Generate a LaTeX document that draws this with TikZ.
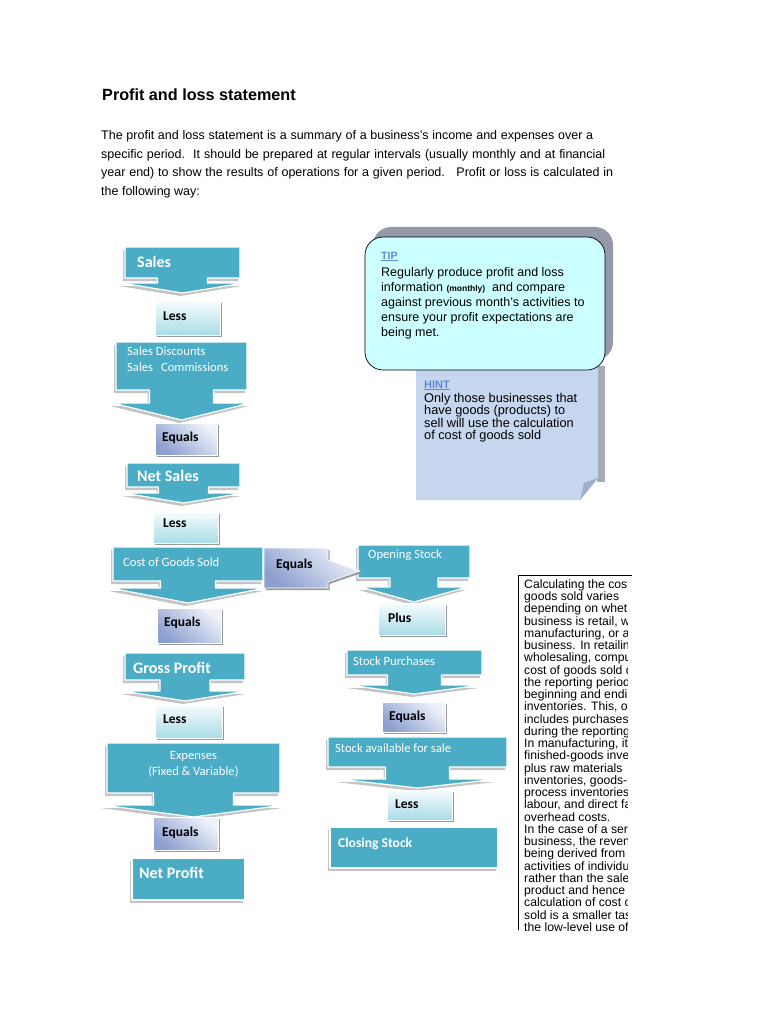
\documentclass[tikz,border=0pt]{standalone}
\usepackage{fontspec}
\setmainfont{Liberation Sans}
\newfontfamily\calfont{Carlito}
\usetikzlibrary{calc,shadows}
\definecolor{tealc}{HTML}{4BACC6}
\definecolor{lesstop}{HTML}{F6FCFD}
\definecolor{lessbot}{HTML}{A9DCE7}
\definecolor{eqlight}{HTML}{EEF2FA}
\definecolor{eqdark}{HTML}{8C9FCF}
\definecolor{tipfill}{HTML}{CCFFFF}
\definecolor{tipshadow}{HTML}{949AAA}
\definecolor{hintshadow}{HTML}{A4AAB8}
\definecolor{hintfill}{HTML}{C6D6EF}
\definecolor{hintfold}{HTML}{9FAFCB}
\definecolor{labelblue}{HTML}{5B8DD6}
\definecolor{shadowgray}{HTML}{C4C4C4}
% #1 node, #2 stem half width, #3 wing half width, #4 stem length, #5 head height
\newcommand\tealarrow[5]{%
  \path[tealshape] (#1.north west) -- (#1.north east) -- (#1.south east)
    -- ($(#1.south)+(#2,0)$) -- ($(#1.south)+(#2,-#4)$) -- ($(#1.south)+(#3,-#4)$)
    -- ($(#1.south)+(0,-#4-#5)$) -- ($(#1.south)+(-#3,-#4)$) -- ($(#1.south)+(-#2,-#4)$)
    -- ($(#1.south)+(-#2,0)$) -- (#1.south west) -- cycle;}
\begin{document}
\begin{tikzpicture}[x=1pt,y=1pt,
  skel/.style={rectangle,inner sep=0pt,outer sep=0pt,draw=none,fill=none},
  sz/.style 2 args={minimum width=#1pt,minimum height=#2pt},
  tealshape/.style={fill=tealc,draw=white,line width=1.2pt,line join=round,
     drop shadow={shadow xshift=-2pt,shadow yshift=-3pt,fill=shadowgray,opacity=1}},
  tealrect/.style={skel,tealshape},
  lessbox/.style={skel,top color=lesstop,bottom color=lessbot,draw=white,line width=0.6pt,
     drop shadow={shadow xshift=1.5pt,shadow yshift=-2pt,fill=black!40,opacity=1}},
  eqshade/.style={top color=eqlight,bottom color=eqdark,shading angle=-40,draw=white,line width=0.6pt,
     drop shadow={shadow xshift=1.5pt,shadow yshift=-2pt,fill=black!40,opacity=1}},
  eqbox/.style={skel,eqshade},
  bigT/.style={anchor=base west,inner sep=0pt,text=white,font=\calfont\bfseries\fontsize{16}{19}\selectfont},
  smallT/.style={anchor=base west,inner sep=0pt,text=white,font=\calfont\fontsize{12.6}{15}\selectfont},
  boxT/.style={anchor=base west,inner sep=0pt,text=black,font=\calfont\bfseries\fontsize{13.5}{16}\selectfont},
  introline/.style={anchor=base west,inner sep=0pt,font=\fontsize{12.5}{15}\selectfont},
]
\useasboundingbox (0,0) rectangle (768,-1024);
\fill[white] (0,0) rectangle (768,-1024);

% ---------- heading and intro ----------
\node[anchor=base west,inner sep=0pt,font=\bfseries\fontsize{16.2}{19}\selectfont] (title) at (102,-101) {Profit and loss statement};
\node[introline] (in1) at (101,-140) {\makebox[492pt][s]{The profit and loss statement is a summary of a business’s income and expenses over a}};
\node[introline] (in2) at (101,-158.5) {\makebox[504pt][s]{specific period.\ \ It should be prepared at regular intervals (usually monthly and at financial}};
\node[introline] (in3) at (101,-177) {\makebox[512pt][s]{year end) to show the results of operations for a given period.\ \ \ Profit or loss is calculated in}};
\node[introline] (in4) at (101,-195.5) {the following way:};

% ---------- HINT note ----------
\fill[hintshadow] (597,-366) rectangle (605,-482);
\path[fill=hintfill,draw=gray!70,dotted] (416,-362) -- (598,-362) -- (598,-478) -- (580,-500) -- (416,-500) -- cycle;
\fill[hintfold] (580,-500) -- (584,-483) -- (598,-478) -- cycle;
\node[anchor=base west,inner sep=0pt,text=labelblue,font=\bfseries\fontsize{11}{13}\selectfont] (hintlbl) at (424,-388) {\underline{HINT}};
\node[anchor=north west,inner sep=0pt,align=left,font=\fontsize{12.75}{12.3}\selectfont] (hinttext) at (424,-393) {Only those businesses that\\have goods (products) to\\sell will use the calculation\\of cost of goods sold};

% ---------- TIP note ----------
\fill[tipshadow,rounded corners=18pt] (373,-227) rectangle (613,-360);
\node[skel,sz={240}{133},anchor=north west,draw=black,line width=0.7pt,fill=tipfill,rounded corners=18pt] (tip) at (365,-237) {};
\node[anchor=base west,inner sep=0pt,text=labelblue,font=\bfseries\fontsize{10.5}{12}\selectfont] (tiplbl) at (381,-259) {\underline{TIP}};
\node[anchor=north west,inner sep=0pt,align=left,font=\fontsize{12.5}{15}\selectfont] (tiptext) at (381,-267) {Regularly produce profit and loss\\information {\bfseries\fontsize{8.5}{15}\selectfont(monthly)}\ \ and compare\\against previous month’s activities to\\ensure your profit expectations are\\being met.};

% ---------- skeleton rectangles of the teal callouts ----------
\node[skel,sz={115}{31}] (sales) at (182.5,-262.5) {};
\node[skel,sz={131}{48}] (disc) at (181.5,-366) {};
\node[skel,sz={113}{24}] (netsales) at (183.5,-475) {};
\node[skel,sz={150}{34}] (cogs) at (188,-564) {};
\node[skel,sz={120}{27}] (gross) at (185,-666.5) {};
\node[skel,sz={173}{50}] (expenses) at (193.5,-768) {};
\node[skel,sz={112}{33}] (opening) at (414,-561.5) {};
\node[skel,sz={135}{25}] (purchases) at (414.5,-662.5) {};
\node[skel,sz={179}{30}] (available) at (417.5,-752) {};

% ---------- teal callout shapes ----------
\tealarrow{sales}{25}{61.5}{5}{10}
\tealarrow{disc}{32}{69}{13}{17}
\tealarrow{netsales}{25}{60}{6}{10}
\tealarrow{cogs}{27.5}{77.5}{7}{15}
\tealarrow{gross}{25}{62.5}{11}{10}
\tealarrow{expenses}{40}{91}{12}{12}
\tealarrow{opening}{24}{53.5}{9}{15}
\tealarrow{purchases}{27}{66}{10}{9}
\tealarrow{available}{32}{80}{12}{9}
\node[tealrect,sz={113}{42}] (netprofit) at (188.5,-879) {};
\node[tealrect,sz={168}{41}] (closing) at (414,-847.5) {};

% ---------- light boxes ----------
\node[lessbox,sz={65}{34}] (less1) at (187.5,-318) {};
\node[eqbox,sz={62}{32}] (equals1) at (186,-439) {};
\node[lessbox,sz={65}{31}] (less2) at (185.5,-527.5) {};
\node[eqbox,sz={64}{35}] (equals2) at (189,-625.5) {};
\node[lessbox,sz={67}{32}] (plus) at (411.5,-619) {};
\node[lessbox,sz={67}{33}] (less3) at (188.5,-721.5) {};
\node[eqbox,sz={65}{33}] (equals3) at (185.5,-833.5) {};
\node[eqbox,sz={63}{30}] (equals4) at (413.5,-717) {};
\node[lessbox,sz={65}{30}] (less4) at (419.5,-805) {};
\node[skel,sz={64}{40}] (eqm) at (296,-568) {};
\coordinate (eqtip) at ($(opening.west)+(2,-9.5)$);
\path[eqshade] (eqm.north west) -- (eqm.north east) -- ($(eqm.east)+(0,8)$) -- (eqtip)
  -- ($(eqm.east)+(0,-14)$) -- (eqm.south east) -- (eqm.south west) -- cycle;

% ---------- texts of the teal shapes ----------
\node[bigT] (salesT) at (137,-267) {Sales};
\node[smallT] (discT1) at (127,-355) {Sales Discounts};
\node[smallT] (discT2) at (127,-371) {Sales\hspace{8pt}Commissions};
\node[bigT] (netsalesT) at (137,-481) {Net Sales};
\node[smallT] (cogsT) at (123,-566) {Cost of Goods Sold};
\node[bigT] (grossT) at (133,-673) {Gross Profit};
\node[smallT,anchor=base] (expT1) at (193.5,-759) {Expenses};
\node[smallT,anchor=base] (expT2) at (193.5,-775) {(Fixed \& Variable)};
\node[bigT] (netprofitT) at (139,-878) {Net Profit};
\node[smallT] (openingT) at (368,-558) {Opening Stock};
\node[smallT] (purchT) at (353,-665) {Stock Purchases};
\node[smallT] (availT) at (335,-752) {Stock available for sale};
\node[bigT,font=\calfont\bfseries\fontsize{13.6}{16}\selectfont] (closingT) at (338,-847) {Closing Stock};

% ---------- texts of the light boxes ----------
\node[boxT] (less1T) at (163,-320) {Less};
\node[boxT] (equals1T) at (162,-441) {Equals};
\node[boxT] (less2T) at (163,-527) {Less};
\node[boxT] (equals2T) at (164,-626) {Equals};
\node[boxT] (eqmT) at (276,-568) {Equals};
\node[boxT] (plusT) at (388,-622) {Plus};
\node[boxT] (less3T) at (163,-723) {Less};
\node[boxT] (equals3T) at (162,-836) {Equals};
\node[boxT] (equals4T) at (389,-720) {Equals};
\node[boxT] (less4T) at (395,-808) {Less};

% ---------- side text box ----------
\draw[black,line width=0.8pt] (518,-930) -- (518,-575) -- (632,-575);
\begin{scope}
\clip (519,-576) rectangle (627,-930);
\node[anchor=north west,inner sep=0pt,align=left,font=\fontsize{12.2}{12.25}\selectfont] (sidetext) at (524,-579.3) {Calculating the cost of\\goods sold varies\\depending on whether the\\business is retail, wholesale,\\manufacturing, or a service\\business. In retailing and\\wholesaling, computing the\\cost of goods sold during\\the reporting period involves\\beginning and ending\\inventories. This, of course,\\includes purchases made\\during the reporting period.\\In manufacturing, it involves\\finished-goods inventories\\plus raw materials\\inventories, goods-in-\\process inventories, direct\\labour, and direct factory\\overhead costs.\\In the case of a service\\business, the revenue\\being derived from the\\activities of individuals\\rather than the sale of a\\product and hence the\\calculation of cost of goods\\sold is a smaller task, with\\the low-level use of};
\end{scope}
\end{tikzpicture}
\end{document}
